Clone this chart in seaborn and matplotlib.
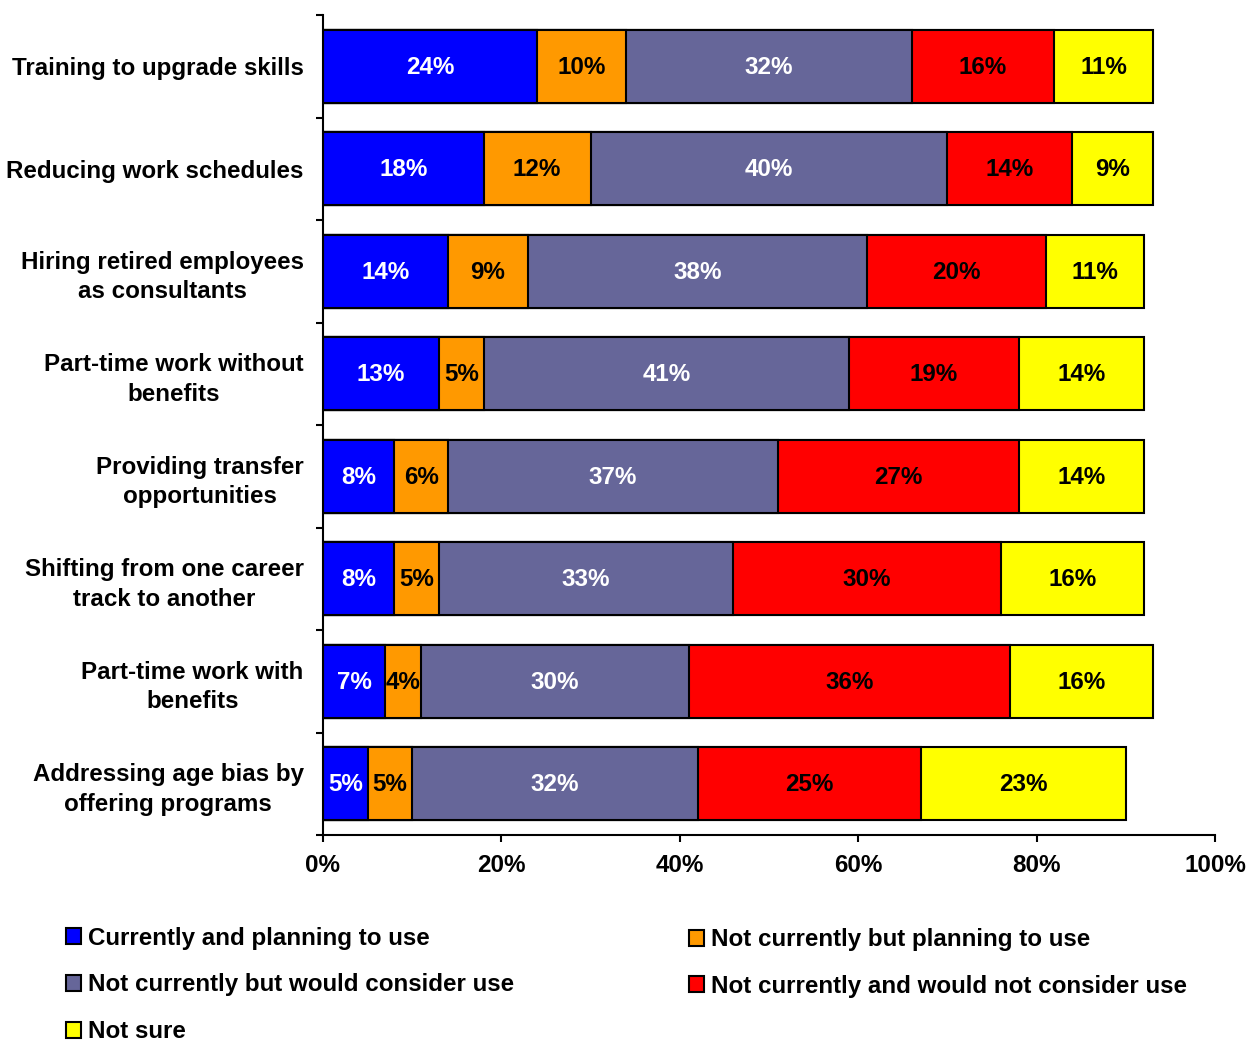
import numpy as np
import pandas as pd
import matplotlib
matplotlib.use("Agg")
import matplotlib.pyplot as plt
from matplotlib.patches import Patch
import seaborn as sns

# Survey: use of workforce-retention practices (% of respondents)
categories = [
    "Training to upgrade skills",
    "Reducing work schedules",
    "Hiring retired employees\nas consultants",
    "Part-time work without\nbenefits",
    "Providing transfer\nopportunities",
    "Shifting from one career\ntrack to another",
    "Part-time work with\nbenefits",
    "Addressing age bias by\noffering programs",
]
currently_planning = [24, 18, 14, 13, 8, 8, 7, 5]
not_now_planning = [10, 12, 9, 5, 6, 5, 4, 5]
would_consider = [32, 40, 38, 41, 37, 33, 30, 32]
would_not_consider = [16, 14, 20, 19, 27, 30, 36, 25]
not_sure = [11, 9, 11, 14, 14, 16, 16, 23]

series_names = [
    "Currently and planning to use",
    "Not currently but planning to use",
    "Not currently but would consider use",
    "Not currently and would not consider use",
    "Not sure",
]
series_colors = ["#0000FF", "#FF9900", "#666699", "#FF0000", "#FFFF00"]
label_colors = ["white", "black", "white", "black", "black"]
x_ticks = [0, 20, 40, 60, 80, 100]

sns.set_theme(style="ticks")
plt.rcParams["font.family"] = ["Liberation Sans", "DejaVu Sans"]
plt.rcParams["font.weight"] = "bold"
plt.rcParams["text.color"] = "black"
plt.rcParams["axes.labelcolor"] = "black"
plt.rcParams["xtick.color"] = "black"
plt.rcParams["ytick.color"] = "black"
plt.rcParams["axes.edgecolor"] = "black"

FS = 17.4

fig = plt.figure(figsize=(12.49, 10.44), dpi=100)
fig.patch.set_facecolor("white")
ax = fig.add_axes([323 / 1249, 1 - 835 / 1044, (1215 - 323) / 1249, (835 - 15) / 1044])

series = [currently_planning, not_now_planning, would_consider, would_not_consider, not_sure]
df = pd.DataFrame(dict(zip(series_names, series)), index=categories)
cum = df.cumsum(axis=1)

# Stack by drawing cumulative totals from the outermost segment inward
for name, color in reversed(list(zip(series_names, series_colors))):
    sns.barplot(x=cum[name].values, y=categories, orient="h", color=color,
                saturation=1, width=0.71, edgecolor="black", linewidth=1.5, ax=ax)

# Percentage labels centred in each segment
for j, name in enumerate(series_names):
    for i, cat in enumerate(categories):
        v = df.loc[cat, name]
        ax.text(cum.loc[cat, name] - v / 2, i + 0.01, f"{v}%", ha="center", va="center",
                color=label_colors[j], fontsize=FS, fontweight="bold")

ax.set_xlim(0, 100)
ax.set_ylim(7.5, -0.5)
ax.set_xticks(x_ticks, labels=[f"{t}%" for t in x_ticks])
ax.set_yticks(np.arange(-0.5, len(categories), 1), labels=[])
ax.set_yticks(range(len(categories)), labels=categories, minor=True)
for lab in ax.get_yticklabels(minor=True):
    lab.set_multialignment("center")
    lab.set_linespacing(1.35)
    lab.set_fontsize(FS)
    lab.set_fontweight("bold")
    lab.set_color("black")
ax.tick_params(axis="y", which="minor", length=0, pad=14)
ax.tick_params(axis="both", which="major", length=5, width=1.5, direction="out",
               color="black", labelsize=FS, labelcolor="black")
ax.tick_params(axis="x", pad=9)
for lab in ax.get_xticklabels():
    lab.set_fontweight("bold")
ax.set_xlabel("")
ax.set_ylabel("")
ax.grid(False)
for side in ["top", "right"]:
    ax.spines[side].set_visible(False)
for side in ["left", "bottom"]:
    ax.spines[side].set_linewidth(1.5)
    ax.spines[side].set_color("black")

handles = [Patch(facecolor=c, edgecolor="black", linewidth=1.5) for c in series_colors]
legend_kw = dict(frameon=False, prop={"size": FS, "weight": "bold"}, handlelength=0.6,
                 handleheight=0.65, handletextpad=0.3, labelspacing=0.98,
                 borderpad=0, borderaxespad=0, labelcolor="black")
fig.legend([handles[0], handles[2], handles[4]],
           [series_names[0], series_names[2], series_names[4]],
           loc="center left", bbox_to_anchor=(66 / 1249, 1 - 985 / 1044), **legend_kw)
fig.legend([handles[1], handles[3]], [series_names[1], series_names[3]],
           loc="center left", bbox_to_anchor=(689 / 1249, 1 - 963 / 1044), **legend_kw)

fig.savefig("out.png", dpi=100, facecolor="white")
